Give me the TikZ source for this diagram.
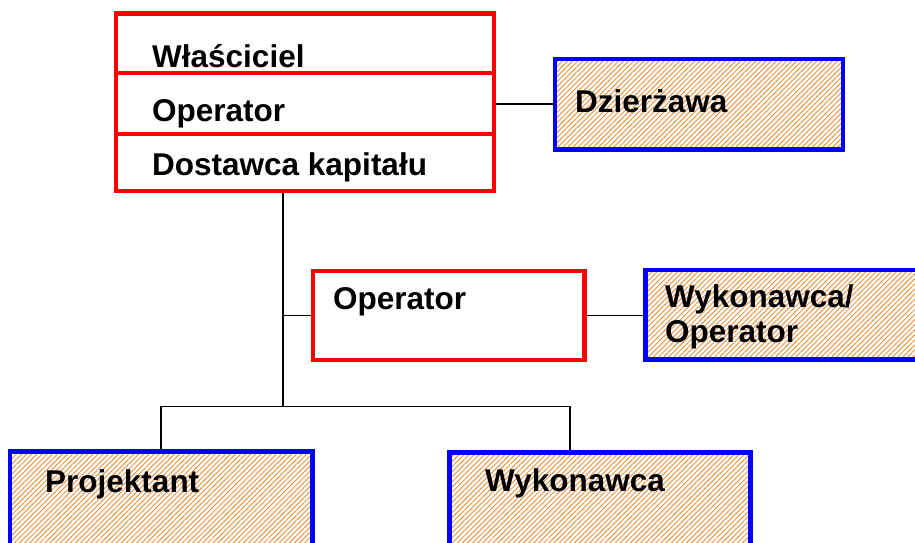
\documentclass[tikz,border=0pt]{standalone}
\usepackage{fontspec}
\setmainfont{Liberation Sans}
\usetikzlibrary{patterns.meta}
\definecolor{hatch}{RGB}{232,150,75}
\begin{document}
\begin{tikzpicture}[x=1pt,y=-1pt,
  redbox/.style={draw={rgb,255:red,255;green,0;blue,0},line width=4.8pt,inner sep=0pt},
  bluebox/.style={draw={rgb,255:red,0;green,0;blue,255},line width=4.8pt,inner sep=0pt,
    pattern={Lines[angle=45,distance=3.6pt,line width=1.0pt]},pattern color=hatch},
  lbl/.style={anchor=base west,inner sep=0pt,font=\fontsize{31.5}{35}\selectfont\bfseries,align=left},
  conn/.style={draw=black,line width=1.8pt}]
\useasboundingbox (0,0) rectangle (915,542);
\clip (0,0) rectangle (915,542);
% boxes
\node[redbox,minimum width=378pt,minimum height=177.5pt] (own) at (305,102.25) {};
\coordinate (d1l) at (116,73); \coordinate (d1r) at (494,73);
\coordinate (d2l) at (116,134); \coordinate (d2r) at (494,134);
\draw[redbox] (d1l) -- (d1r);
\draw[redbox] (d2l) -- (d2r);
\node[bluebox,minimum width=288pt,minimum height=90.5pt] (dz) at (699,104.25) {};
\node[redbox,minimum width=271.5pt,minimum height=89pt] (mop) at (448.75,315.5) {};
\node[bluebox,minimum width=284.5pt,minimum height=89.5pt] (wo) at (787.75,314.75) {};
\node[bluebox,minimum width=302.5pt,minimum height=108.5pt] (proj) at (161.25,505.75) {};
\node[bluebox,minimum width=301pt,minimum height=107.5pt] (wyk) at (600,506.25) {};
% labels
\node[lbl] (t1) at (152,67) {Właściciel};
\node[lbl] (t2) at (152,121) {Operator};
\node[lbl] (t3) at (152,175) {Dostawca kapitału};
\node[lbl] (t4) at (575,112) {Dzierżawa};
\node[lbl] (t5) at (333,309) {Operator};
\node[lbl] (t6) at (665,342) {Wykonawca/\\Operator};
\node[lbl] (t7) at (45,492) {Projektant};
\node[lbl] (t8) at (485,491) {Wykonawca};
% connectors
\coordinate (j) at (283,406.5);
\coordinate (jl) at (161,406.5);
\coordinate (jr) at (570,406.5);
\draw[conn] (dz.west -| own.east) -- (dz.west);
\draw[conn] (j |- own.south) -- (j);
\draw[conn] (j |- mop.west) -- (mop.west);
\draw[conn] (mop.east) -- (mop.east -| wo.west);
\draw[conn] (jl |- proj.north) -- (jl) -- (jr) -- (jr |- wyk.north);
\end{tikzpicture}
\end{document}
